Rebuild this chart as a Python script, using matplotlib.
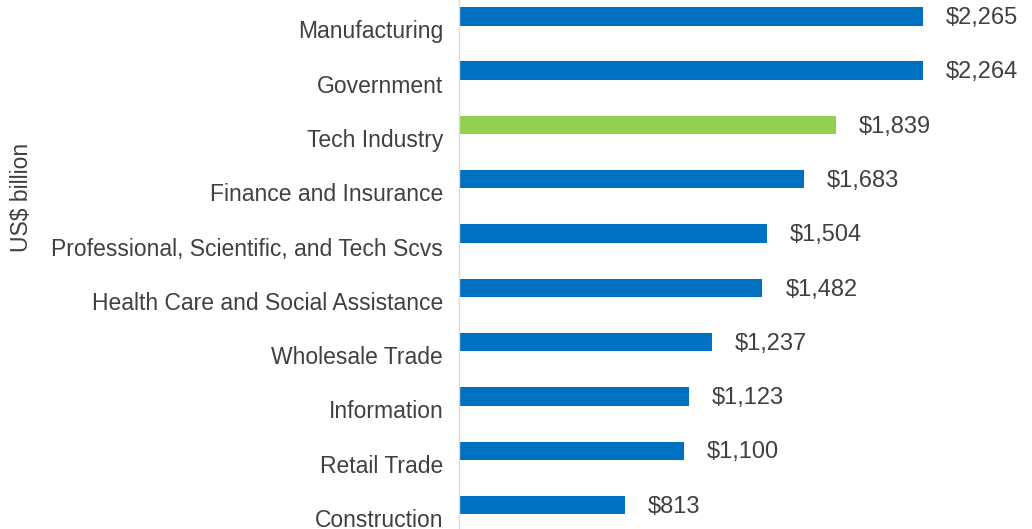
import matplotlib
matplotlib.use("Agg")
import matplotlib.pyplot as plt
import matplotlib.transforms as mtransforms

categories = ["Manufacturing", "Government", "Tech Industry", "Finance and Insurance",
              "Professional, Scientific, and Tech Scvs", "Health Care and Social Assistance",
              "Wholesale Trade", "Information", "Retail Trade", "Construction"]
values = [2265, 2264, 1839, 1683, 1504, 1482, 1237, 1123, 1100, 813]
highlight = "Tech Industry"

BLUE = "#0070C0"
GREEN = "#92D050"
TEXT = "#404040"

plt.rcParams['font.family'] = ['Liberation Sans', 'DejaVu Sans']

fig = plt.figure(figsize=(10.32, 5.29), dpi=100)
ax = fig.add_axes([458.5 / 1032, 0, 1 - 458.5 / 1032, 1])

ypos = list(range(len(categories)))
colors = [GREEN if c == highlight else BLUE for c in categories]
ax.barh(ypos, values, height=0.34, color=colors)

px_per_unit = 464.5 / 2265
ax.set_xlim(0, (1032 - 458.5) / px_per_unit)
ax.set_ylim(9.44, -0.30)

for y, v in zip(ypos, values):
    ax.annotate(f"${v:,}", xy=(v, y), xytext=(16.5, -1.2), textcoords="offset points",
                va="center", ha="left", fontsize=17, color=TEXT)

ax.set_yticks(ypos)
ax.set_yticklabels(categories, fontsize=16.5, color=TEXT)
ax.tick_params(axis="y", length=0, pad=11)
offset = mtransforms.ScaledTranslation(0, -13.0 / 100, fig.dpi_scale_trans)
for lbl in ax.get_yticklabels():
    lbl.set_transform(lbl.get_transform() + offset)

ax.set_xticks([])
for s in ["top", "right", "bottom"]:
    ax.spines[s].set_visible(False)
ax.spines["left"].set_color("#D9D9D9")
ax.spines["left"].set_linewidth(1.0)

fig.text(22 / 1032, 1 - 197 / 529, "US$ billion", rotation=90, va="center", ha="center",
         fontsize=16.5, color=TEXT)

fig.savefig("out.png", dpi=100)
